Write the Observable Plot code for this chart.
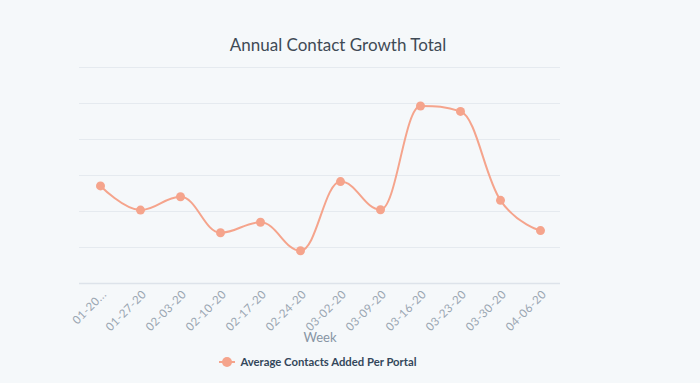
<!DOCTYPE html>
<html>
<head>
<meta charset="utf-8">
<script src="https://cdn.jsdelivr.net/npm/d3@7"></script>
<script src="https://cdn.jsdelivr.net/npm/@observablehq/plot@0.6"></script>
<style>
  html, body { margin: 0; padding: 0; background: #f5f8fa; }
  body { width: 700px; height: 383px; position: relative; overflow: hidden; font-family: Lato, "Open Sans", sans-serif; }
  #title { position: absolute; top: 34px; left: 0; width: 676px; text-align: center; font-size: 17px; color: #3f4a55; }
  #chart { position: absolute; top: 60px; left: 0; }
  #legend { position: absolute; top: 355px; left: 0; width: 636px; text-align: center; font-size: 11.3px; font-weight: bold; color: #33475b; }
  .sw { display: inline-block; position: relative; width: 16px; height: 10px; vertical-align: -1px; margin-right: 5px; }
  .sw::before { content: ""; position: absolute; left: 0; right: 0; top: 4px; height: 2px; background: #f5a48c; }
  .sw::after { content: ""; position: absolute; left: 3px; top: 0; width: 10px; height: 10px; border-radius: 50%; background: #f5a48c; }
  #chart svg g[aria-label="x-axis tick label"] text { letter-spacing: 0.4px; }
</style>
</head>
<body>
<div id="title">Annual Contact Growth Total</div>
<div id="chart"></div>
<div id="legend"><span class="sw"></span>Average Contacts Added Per Portal</div>
<script>
const weeks = ["01-20-20","01-27-20","02-03-20","02-10-20","02-17-20","02-24-20","03-02-20","03-09-20","03-16-20","03-23-20","03-30-20","04-06-20"];
const tickLabels = ["01-20...","01-27-20","02-03-20","02-10-20","02-17-20","02-24-20","03-02-20","03-09-20","03-16-20","03-23-20","03-30-20","04-06-20"];
const contacts = [27.1, 20.4, 24.1, 14.1, 17.0, 9.1, 28.3, 20.5, 49.3, 47.8, 23.1, 14.7];
const gridValues = [10, 20, 30, 40, 50, 60];

const data = weeks.map((w, i) => ({week: w, value: contacts[i]}));
const color = "#f5a48c";

// spline in the style of the original chart (smoothing 1.5, no overshoot at extremes)
function splineCurve(context) {
  let pts;
  return {
    areaStart() {}, areaEnd() {},
    lineStart() { pts = []; },
    point(x, y) { pts.push([+x, +y]); },
    lineEnd() {
      const n = pts.length;
      if (!n) return;
      context.moveTo(pts[0][0], pts[0][1]);
      const ctrl = pts.map((p, i) => {
        if (i === 0 || i === n - 1) return null;
        const [lx, ly] = pts[i - 1], [x, y] = p, [nx, ny] = pts[i + 1];
        const s = 1.5, d = 2.5;
        let lcx = (s * x + lx) / d, lcy = (s * y + ly) / d, rcx = (s * x + nx) / d, rcy = (s * y + ny) / d;
        if (rcx !== lcx) { const c = ((rcy - lcy) * (rcx - x)) / (rcx - lcx) + y - rcy; lcy += c; rcy += c; }
        if (lcy > ly && lcy > y) { lcy = Math.max(ly, y); rcy = 2 * y - lcy; }
        else if (lcy < ly && lcy < y) { lcy = Math.min(ly, y); rcy = 2 * y - lcy; }
        if (rcy > ny && rcy > y) { rcy = Math.max(ny, y); lcy = 2 * y - rcy; }
        else if (rcy < ny && rcy < y) { rcy = Math.min(ny, y); lcy = 2 * y - rcy; }
        return {lcx, lcy, rcx, rcy};
      });
      for (let i = 1; i < n; i++) {
        const a = ctrl[i - 1], b = ctrl[i];
        context.bezierCurveTo(
          a ? a.rcx : pts[i - 1][0], a ? a.rcy : pts[i - 1][1],
          b ? b.lcx : pts[i][0], b ? b.lcy : pts[i][1],
          pts[i][0], pts[i][1]
        );
      }
    }
  };
}

const chart = Plot.plot({
  width: 700,
  height: 290,
  marginTop: 7,
  marginBottom: 67,
  marginLeft: 79,
  marginRight: 140,
  style: {background: "transparent", fontFamily: "Lato, 'Open Sans', sans-serif"},
  x: {type: "point", domain: weeks, padding: 0.5},
  y: {domain: [0, 60], axis: null},
  marks: [
    Plot.ruleY(gridValues, {stroke: "#e5eaef", strokeWidth: 1}),
    Plot.ruleY([0], {stroke: "#dde3ea", strokeWidth: 1.5}),
    Plot.axisX({
      tickRotate: -45, tickSize: 0, tickPadding: 7, fontSize: 11.5, fill: "#9aa6b2",
      dx: 4, dy: 2,
      tickFormat: (d) => tickLabels[weeks.indexOf(d)],
      label: null
    }),
    Plot.text(["Week"], {frameAnchor: "bottom", dy: 58, fontSize: 13, fill: "#8795a4"}),
    Plot.line(data, {x: "week", y: "value", stroke: color, strokeWidth: 2, curve: splineCurve}),
    Plot.dot(data, {x: "week", y: "value", r: 4.5, fill: color})
  ]
});
document.getElementById("chart").appendChild(chart);
</script>
</body>
</html>
